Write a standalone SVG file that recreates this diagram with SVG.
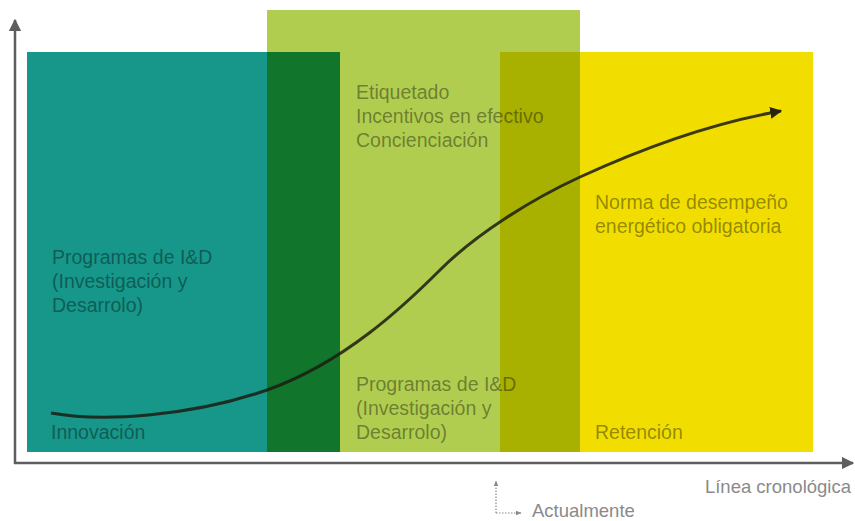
<svg xmlns="http://www.w3.org/2000/svg" width="855" height="521" viewBox="0 0 855 521">
  <style>
    .lbl { font-family: "Liberation Sans", Arial, sans-serif; font-size: 19.5px; fill: #000; fill-opacity: 0.4; }
    .axlbl { font-family: "Liberation Sans", Arial, sans-serif; font-size: 18.5px; fill: #8a8a8a; }
    .axis { stroke: #5e5e5e; stroke-width: 2.5; fill: none; }
    .curve { stroke: #1c1c10; stroke-opacity: 0.85; stroke-width: 3; fill: none; }
    .dot { stroke: #8a8a8a; stroke-width: 1.2; stroke-dasharray: 1.5 1.5; fill: none; }
  </style>
  <defs>
    <marker id="axhead" viewBox="0 0 10 10" refX="9" refY="5" markerWidth="5" markerHeight="5" orient="auto" markerUnits="strokeWidth">
      <path d="M0,0 L10,5 L0,10 Z" fill="#5e5e5e"/>
    </marker>
    <marker id="curvehead" viewBox="0 0 10 10" refX="9" refY="5" markerWidth="4" markerHeight="4" orient="auto" markerUnits="strokeWidth">
      <path d="M0,0 L10,5 L0,10 Z" fill="#26240c"/>
    </marker>
    <marker id="dothead" viewBox="0 0 10 10" refX="9" refY="5" markerWidth="5" markerHeight="5" orient="auto" markerUnits="strokeWidth">
      <path d="M0,1 L10,5 L0,9 Z" fill="#8a8a8a"/>
    </marker>
  </defs>

  <g id="bands">
    <rect id="band-innovacion" x="27" y="52" width="240" height="400" fill="#17968a"/>
    <rect id="band-overlap-1" x="267" y="52" width="73" height="400" fill="#11762c"/>
    <rect id="band-overlap-1-top" x="267" y="10" width="73" height="42" fill="#b1cd4f"/>
    <rect id="band-mercado" x="340" y="10" width="160" height="442" fill="#b1cd4f"/>
    <rect id="band-overlap-2-top" x="500" y="10" width="80" height="42" fill="#b1cd4f"/>
    <rect id="band-overlap-2" x="500" y="52" width="80" height="400" fill="#a8b000"/>
    <rect id="band-retencion" x="580" y="52" width="233" height="400" fill="#f2dd00"/>
  </g>

  <g id="connectors">
    <line class="axis" x1="15" y1="464" x2="15" y2="20" marker-end="url(#axhead)"/>
    <line class="axis" x1="14" y1="463" x2="853" y2="463" marker-end="url(#axhead)"/>
    <path class="curve" d="M51,413 C100,422 190,417 267,390 C344,363 405,305 440,270 C475,235 530,200 580,177 C630,154 700,125 781,111" marker-end="url(#curvehead)"/>
    <path class="dot" d="M496,513 L496,481" marker-end="url(#dothead)"/>
    <path class="dot" d="M496,513 L521,513" marker-end="url(#dothead)"/>
  </g>

  <g id="node-innovacion">
    <text class="lbl" x="52" y="264">Programas de I&amp;D</text>
    <text class="lbl" x="52" y="288">(Investigación y</text>
    <text class="lbl" x="52" y="312">Desarrolo)</text>
    <text class="lbl" x="51" y="439">Innovación</text>
  </g>

  <g id="node-mercado">
    <text class="lbl" x="356" y="99">Etiquetado</text>
    <text class="lbl" x="356" y="123">Incentivos en efectivo</text>
    <text class="lbl" x="356" y="147">Concienciación</text>
    <text class="lbl" x="356" y="391">Programas de I&amp;D</text>
    <text class="lbl" x="356" y="415">(Investigación y</text>
    <text class="lbl" x="356" y="439">Desarrolo)</text>
  </g>

  <g id="node-retencion">
    <text class="lbl" x="595" y="209">Norma de desempeño</text>
    <text class="lbl" x="595" y="233">energético obligatoria</text>
    <text class="lbl" x="595" y="439">Retención</text>
  </g>

  <g id="axis-labels">
    <text class="axlbl" x="851" y="493" text-anchor="end">Línea cronológica</text>
    <text class="axlbl" x="532" y="517">Actualmente</text>
  </g>
</svg>
